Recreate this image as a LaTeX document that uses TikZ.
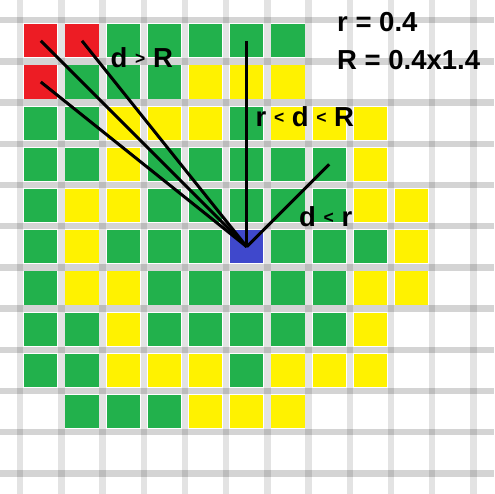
\documentclass[tikz,border=0pt]{standalone}
\usepackage{fontspec}
\setmainfont{Liberation Sans}
\definecolor{pRed}{HTML}{ED1C24}
\definecolor{pGreen}{HTML}{22B14C}
\definecolor{pYellow}{HTML}{FFF200}
\definecolor{pBlue}{HTML}{3F48CC}
\tikzset{
  vline/.style={draw=black, draw opacity=0.11, line width=6.5pt},
  hline/.style={draw=black, draw opacity=0.17, line width=6.5pt},
  cell R/.style={fill=pRed},
  cell G/.style={fill=pGreen},
  cell Y/.style={fill=pYellow},
  cell B/.style={fill=pBlue},
  cell N/.style={},
  ray/.style={draw=black, line width=3pt},
  lab/.style={anchor=base west, inner sep=0pt, font=\fontsize{27.5}{29}\selectfont\bfseries},
}
\newcommand{\sm}[1]{\raisebox{3pt}{\fontsize{17.5}{17.5}\selectfont #1}}
\begin{document}
\begin{tikzpicture}[x=1pt, y=-1pt]
\useasboundingbox (0,0) rectangle (494,494);
\fill[white] (0,0) rectangle (494,494);
% grid
\foreach \k in {0,...,11} {
  \draw[vline] ({20.2+41.2*\k},0) -- ({20.2+41.2*\k},494);
}
\foreach \k in {0,...,11} {
  \draw[hline] (0,{20.2+41.2*\k}) -- (494,{20.2+41.2*\k});
}
% cells
\foreach \j/\cols in {
  0/{R,R,G,G,G,G,G},
  1/{R,G,G,G,Y,Y,Y},
  2/{G,G,Y,Y,Y,G,Y,Y,Y},
  3/{G,G,Y,G,G,G,G,G,Y},
  4/{G,Y,Y,G,G,G,G,G,Y,Y},
  5/{G,Y,G,G,G,B,G,G,G,Y},
  6/{G,Y,Y,G,G,G,G,G,Y,Y},
  7/{G,G,Y,G,G,G,G,G,Y},
  8/{G,G,Y,Y,Y,G,Y,Y,Y},
  9/{N,G,G,G,Y,Y,Y}} {
  \foreach \c [count=\n from 0] in \cols {
    \path[cell \c] ({40.8+41.2*\n-16.6},{40.8+41.2*\j-16.6}) rectangle ++(33.2,33.2);
  }
}
% ray end points (cell centres)
\coordinate (o) at ({40.8+41.2*5},{40.8+41.2*5});
\coordinate (r00) at ({40.8},{40.8});
\coordinate (r10) at ({40.8+41.2},{40.8});
\coordinate (r01) at ({40.8},{40.8+41.2});
\coordinate (g50) at ({40.8+41.2*5},{40.8});
\coordinate (g73) at ({40.8+41.2*7},{40.8+41.2*3});
\draw[ray] (r00) -- (o);
\draw[ray] (r10) -- (o);
\draw[ray] (r01) -- (o);
\draw[ray] (g50) -- (o);
\draw[ray] (g73) -- (o);
% labels
\node[lab] (t1) at (337,31.7) {r = 0.4};
\node[lab] (t2) at (337,69.3) {R = 0.4x1.4};
\node[lab] (t3) at (110.5,67.8) {d \sm{>} R};
\node[lab] (t4) at (255.5,126.7) {r \sm{<} d \sm{<} R};
\node[lab] (t5) at (299,226.7) {d \sm{<} r};
\end{tikzpicture}
\end{document}
